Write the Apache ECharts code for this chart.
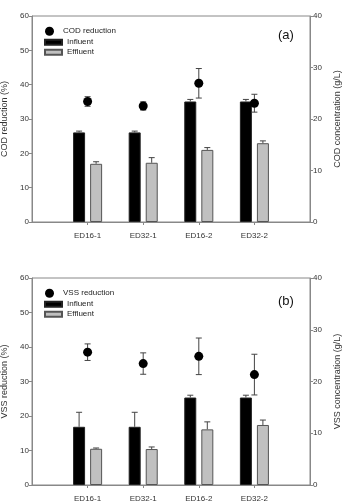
<!DOCTYPE html>
<html>
<head>
<meta charset="utf-8">
<script src="https://cdn.jsdelivr.net/npm/echarts@6/dist/echarts.min.js"></script>
<style>
  html, body { margin: 0; padding: 0; background: #fff; }
  #main { width: 347px; height: 504px; }
</style>
</head>
<body>
<div id="main"></div>
<script>
var chart = echarts.init(document.getElementById("main"))

var categories = ["ED16-1", "ED32-1", "ED16-2", "ED32-2"]

// (a) COD
var codReduction = [35.1, 33.8, 40.4, 34.6]
var codReductionErr = [1.4, 1.2, 4.3, 2.6]
var codInfluent = [17.4, 17.4, 23.4, 23.4]
var codInfluentErr = [0.25, 0.25, 0.4, 0.4]
var codEffluent = [11.3, 11.5, 14.0, 15.3]
var codEffluentErr = [0.4, 1.0, 0.45, 0.45]

// (b) VSS
var vssReduction = [38.5, 35.2, 37.3, 32.0]
var vssReductionErr = [2.4, 3.1, 5.3, 5.9]
var vssInfluent = [11.25, 11.25, 16.9, 16.9]
var vssInfluentErr = [2.8, 2.8, 0.45, 0.45]
var vssEffluent = [7.0, 6.95, 10.75, 11.6]
var vssEffluentErr = [0.15, 0.4, 1.45, 0.95]

var axisData = [""].concat(categories).concat([""])
var axisColor = "#888"
var textColor = "#333"
var font = "Liberation Sans, Arial, sans-serif"

function pairs(vals, errs){
	return vals.map(function(v, i){ return errs ? [i + 1, v, errs[i]] : [i + 1, v] })
}

function errItem(offset, both){
	return function(params, api){
		var x = api.value(0), y = api.value(1), e = api.value(2)
		var c = api.coord([x, y])
		var hi = api.coord([x, y + e])
		var lo = api.coord([x, both ? y - e : y])
		var cx = c[0] + offset, w = 3
		var st = { stroke: "#444", lineWidth: 1 }
		var kids = [
			{ type: "line", shape: { x1: cx, y1: hi[1], x2: cx, y2: lo[1] }, style: st },
			{ type: "line", shape: { x1: cx - w, y1: hi[1], x2: cx + w, y2: hi[1] }, style: st }
		]
		if (both) kids.push({ type: "line", shape: { x1: cx - w, y1: lo[1], x2: cx + w, y2: lo[1] }, style: st })
		return { type: "group", children: kids }
	}
}

function xAx(grid){
	return {
		type: "category", gridIndex: grid, data: axisData, boundaryGap: false,
		axisLine: { lineStyle: { color: axisColor } },
		axisTick: { length: 3, lineStyle: { color: axisColor }, interval: function(i){ return i > 0 && i < 5 } },
		axisLabel: { fontSize: 8, color: textColor, fontFamily: font, margin: 10, interval: 0 },
		splitLine: { show: false }
	}
}

function yAx(grid, pos, max, name, gap){
	return {
		type: "value", gridIndex: grid, position: pos, min: 0, max: max, interval: 10,
		name: name, nameLocation: "middle", nameGap: gap, nameRotate: 90,
		nameTextStyle: { fontSize: 9, color: textColor, fontFamily: font },
		axisLine: { show: true, lineStyle: { color: axisColor } },
		axisTick: { show: true, length: 3, lineStyle: { color: axisColor } },
		axisLabel: { fontSize: 8, color: textColor, fontFamily: font, margin: 3 },
		splitLine: { show: false }
	}
}

function panel(idx, redName, red, redErr, inf, infErr, eff, effErr){
	var yl = idx * 2, yr = idx * 2 + 1
	return [
		{ name: "Influent", type: "bar", xAxisIndex: idx, yAxisIndex: yr, data: pairs(inf),
		  barWidth: 12, barGap: "42%", itemStyle: { color: "#000", borderColor: "#222", borderWidth: 1 } },
		{ name: "Effluent", type: "bar", xAxisIndex: idx, yAxisIndex: yr, data: pairs(eff),
		  barWidth: 12, barGap: "42%", itemStyle: { color: "#c0c0c0", borderColor: "#555", borderWidth: 1 } },
		{ type: "custom", xAxisIndex: idx, yAxisIndex: yr, data: pairs(inf, infErr), z: 3,
		  renderItem: errItem(-8.5, false), encode: { x: 0, y: 1 } },
		{ type: "custom", xAxisIndex: idx, yAxisIndex: yr, data: pairs(eff, effErr), z: 3,
		  renderItem: errItem(8.5, false), encode: { x: 0, y: 1 } },
		{ type: "custom", xAxisIndex: idx, yAxisIndex: yl, data: pairs(red, redErr), z: 4,
		  renderItem: errItem(0, true), encode: { x: 0, y: 1 } },
		{ name: redName, type: "scatter", xAxisIndex: idx, yAxisIndex: yl, data: pairs(red),
		  symbol: "circle", symbolSize: 9, z: 5, itemStyle: { color: "#000", opacity: 1 } }
	]
}

function legends(redName, top){
	var ts = { fontSize: 8, color: "#222", fontFamily: font, lineHeight: 10 }
	return [
		{ data: [{ name: redName, icon: "circle" }], left: 45, top: top - 4.5, padding: 0,
		  itemWidth: 17, itemHeight: 9, itemGap: 0, selectedMode: false, textStyle: ts },
		{ data: [{ name: "Influent", icon: "rect" }, { name: "Effluent", icon: "rect" }],
		  orient: "vertical", left: 44, top: top + 6.5, padding: 0,
		  itemWidth: 17, itemHeight: 5, itemGap: 0, selectedMode: false, textStyle: ts }
	]
}

option = {
	animation: false,
	backgroundColor: "#fff",
	title: [
		{ text: "(a)", left: 278, top: 29, padding: 0, textStyle: { fontSize: 13, fontWeight: "normal", color: "#111", fontFamily: font } },
		{ text: "(b)", left: 278, top: 295, padding: 0, textStyle: { fontSize: 13, fontWeight: "normal", color: "#111", fontFamily: font } }
	],
	legend: legends("COD reduction", 30.7).concat(legends("VSS reduction", 292.7)),
	grid: [
		{ left: 32, right: 37, top: 16, height: 206, show: true, borderColor: axisColor, borderWidth: 1, outerBoundsMode: "none", containLabel: false },
		{ left: 32, right: 37, top: 278, height: 207, show: true, borderColor: axisColor, borderWidth: 1, outerBoundsMode: "none", containLabel: false }
	],
	xAxis: [xAx(0), xAx(1)],
	yAxis: [
		yAx(0, "left", 60, "COD reduction (%)", 19),
		yAx(0, "right", 40, "COD concentration (g/L)", 23),
		yAx(1, "left", 60, "VSS reduction (%)", 19),
		yAx(1, "right", 40, "VSS concentration (g/L)", 23)
	],
	series: panel(0, "COD reduction", codReduction, codReductionErr, codInfluent, codInfluentErr, codEffluent, codEffluentErr)
		.concat(panel(1, "VSS reduction", vssReduction, vssReductionErr, vssInfluent, vssInfluentErr, vssEffluent, vssEffluentErr))
}

chart.setOption(option)
</script>
</body>
</html>
